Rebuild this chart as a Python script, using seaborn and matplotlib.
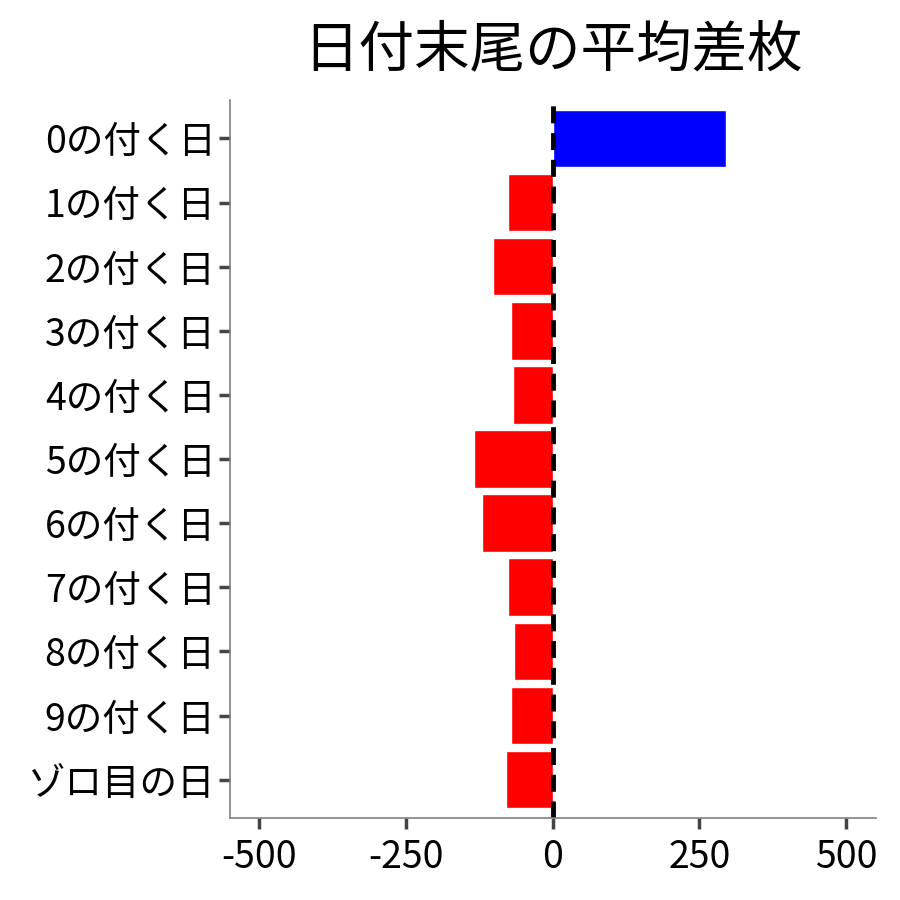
import matplotlib
matplotlib.use("Agg")
import matplotlib.pyplot as plt
import seaborn as sns
import pandas as pd

labels = ["0の付く日", "1の付く日", "2の付く日", "3の付く日", "4の付く日",
          "5の付く日", "6の付く日", "7の付く日", "8の付く日", "9の付く日", "ゾロ目の日"]
diff = [296, -76, -101, -71, -67, -134, -120, -76, -66, -71, -79]

df = pd.DataFrame({"label": labels, "diff": diff})
df["sign"] = ["plus" if v > 0 else "minus" for v in df["diff"]]

sns.set_theme(style="white")
plt.rcParams["font.family"] = ["Noto Sans CJK JP", "DejaVu Sans"]
plt.rcParams["text.color"] = "black"

fig, ax = plt.subplots(figsize=(9, 9), dpi=100)
sns.barplot(data=df, x="diff", y="label", hue="sign", order=labels,
            palette={"plus": "#0000ff", "minus": "#ff0000"},
            width=0.9, dodge=False, legend=False, saturation=1, ax=ax)
ax.axvline(0, color="black", linestyle=(0, (3.5, 2)), linewidth=3.5)

ax.set_xlim(-550, 550)
ax.set_ylim(10.6, -0.6)
ax.set_xticks([-500, -250, 0, 250, 500])
ax.set_xticklabels(["-500", "-250", "0", "250", "500"])
ax.set_xlabel("")
ax.set_ylabel("")
ax.set_title("日付末尾の平均差枚", fontsize=40, pad=24, color="black")

for side in ["top", "right"]:
    ax.spines[side].set_visible(False)
for side in ["left", "bottom"]:
    ax.spines[side].set_color("#808080")
    ax.spines[side].set_linewidth(1.2)
ax.tick_params(axis="both", labelsize=27, colors="#444444", length=8, width=2.5,
               labelcolor="black")
ax.tick_params(axis="y", pad=2)
ax.tick_params(axis="x", pad=6)
ax.tick_params(axis="both", which="both", bottom=True, left=True)

fig.subplots_adjust(left=0.255, right=0.973, top=0.889, bottom=0.091)
fig.savefig("out.png", dpi=100)
